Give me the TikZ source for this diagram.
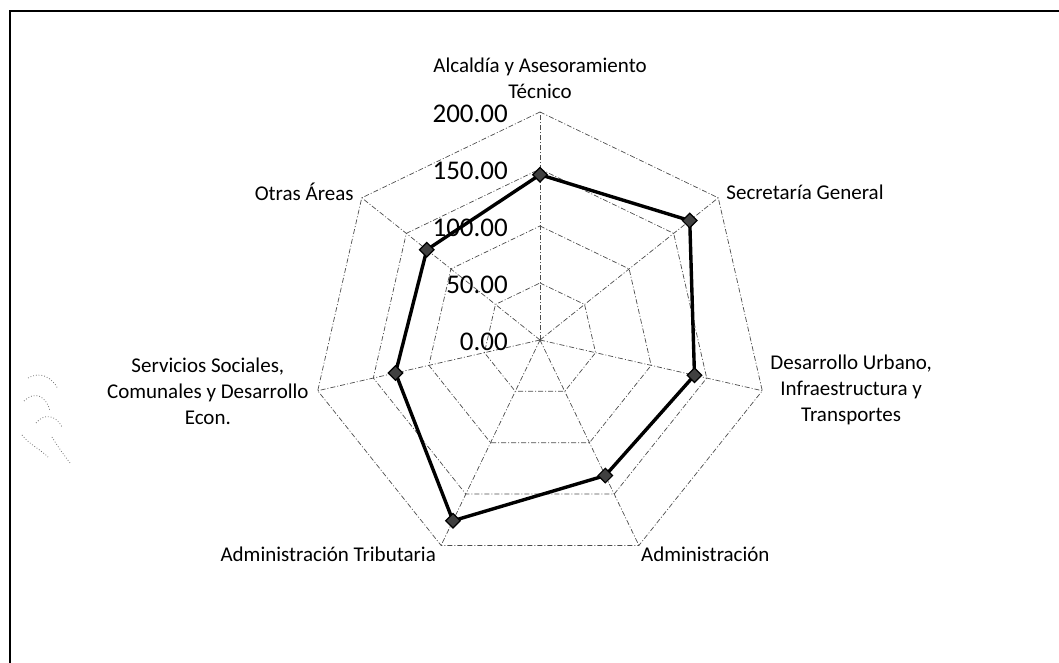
\documentclass[tikz,border=0pt]{standalone}
\usepackage{fontspec}
\setmainfont{Carlito}
\usetikzlibrary{shapes.geometric}
\begin{document}
\begin{tikzpicture}[x=1pt,y=1pt,
  grid/.style={draw=black!70, line width=0.7pt, dash pattern=on 5pt off 2pt on 1pt off 2pt},
  series/.style={draw=black, line width=3.4pt, line join=round},
  marker/.style={diamond, draw=black, fill=black!75, line width=1.2pt, minimum size=15pt, inner sep=0pt},
  catlabel/.style={font=\fontsize{21}{26}\selectfont, align=center, inner sep=0pt},
  vallabel/.style={font=\fontsize{27}{27}\selectfont, anchor=east, inner sep=0pt},
  scribble/.style={draw=black!55, line width=0.8pt, dotted}
]
\useasboundingbox (0,0) rectangle (1059,663);

% outer frame of the chart area
\coordinate (ftl) at (10,652);
\coordinate (ftr) at (1059,652);
\coordinate (fbl) at (10,0);
\draw[line width=1.3pt] (ftr) -- (ftl) -- (fbl);

\begin{scope}[shift={(540,323)}]
  \coordinate (O) at (0,0);
  % spoke end points (200 units = 228pt)
  \foreach \k in {0,...,6} {
    \coordinate (a\k) at ({90-\k*360/7}:228);
  }
  % concentric rings every 50 units
  \foreach \v in {50,100,150,200} {
    \draw[grid] ({90}:{\v*1.14})
      \foreach \k in {1,...,6} { -- ({90-\k*360/7}:{\v*1.14}) } -- cycle;
  }
  % spokes
  \foreach \k in {0,...,6} {
    \draw[grid] (O) -- (a\k);
  }
  % scale labels
  \foreach \v/\t in {0/0.00,50/50.00,100/100.00,150/150.00,200/200.00} {
    \node[vallabel] (v\v) at (-32,{\v*1.14-2}) {\t};
  }
  % data series
  \foreach \k/\val in {0/145,1/168,2/139,3/132,4/176,5/130,6/127} {
    \coordinate (p\k) at ({90-\k*360/7}:{\val*1.14});
  }
  \draw[series] (p0) -- (p1) -- (p2) -- (p3) -- (p4) -- (p5) -- (p6) -- cycle;
  \foreach \k in {0,...,6} {
    \node[marker] (m\k) at (p\k) {};
  }

  % category labels
  \node[catlabel, anchor=south] (l0) at ([yshift=13pt]a0) {Alcaldía y Asesoramiento\\Técnico};
  \node[catlabel, anchor=west] (l1) at ([shift={(8pt,6pt)}]a1) {Secretaría General};
  \node[catlabel, anchor=west] (l2) at ([shift={(8pt,1pt)}]a2) {Desarrollo Urbano,\\Infraestructura y\\Transportes};
  \node[catlabel, anchor=west] (l3) at ([shift={(2pt,-9pt)}]a3) {Administración};
  \node[catlabel, anchor=east] (l4) at ([shift={(-5pt,-9pt)}]a4) {Administración Tributaria};
  \node[catlabel, anchor=east] (l5) at ([shift={(-9pt,-1pt)}]a5) {Servicios Sociales,\\Comunales y Desarrollo\\Econ.};
  \node[catlabel, anchor=east] (l6) at ([shift={(-8pt,6pt)}]a6) {Otras Áreas};
\end{scope}

% faint pen marks at the left margin
\draw[scribble] (28,285) .. controls (40,292) and (52,286) .. (58,274);
\draw[scribble] (24,262) .. controls (34,272) and (46,268) .. (50,252);
\draw[scribble] (36,240) .. controls (44,250) and (56,248) .. (62,236);
\draw[scribble] (22,228) .. controls (30,218) and (40,214) .. (48,206);
\draw[scribble] (52,226) .. controls (58,216) and (64,208) .. (70,200);
\end{tikzpicture}
\end{document}
